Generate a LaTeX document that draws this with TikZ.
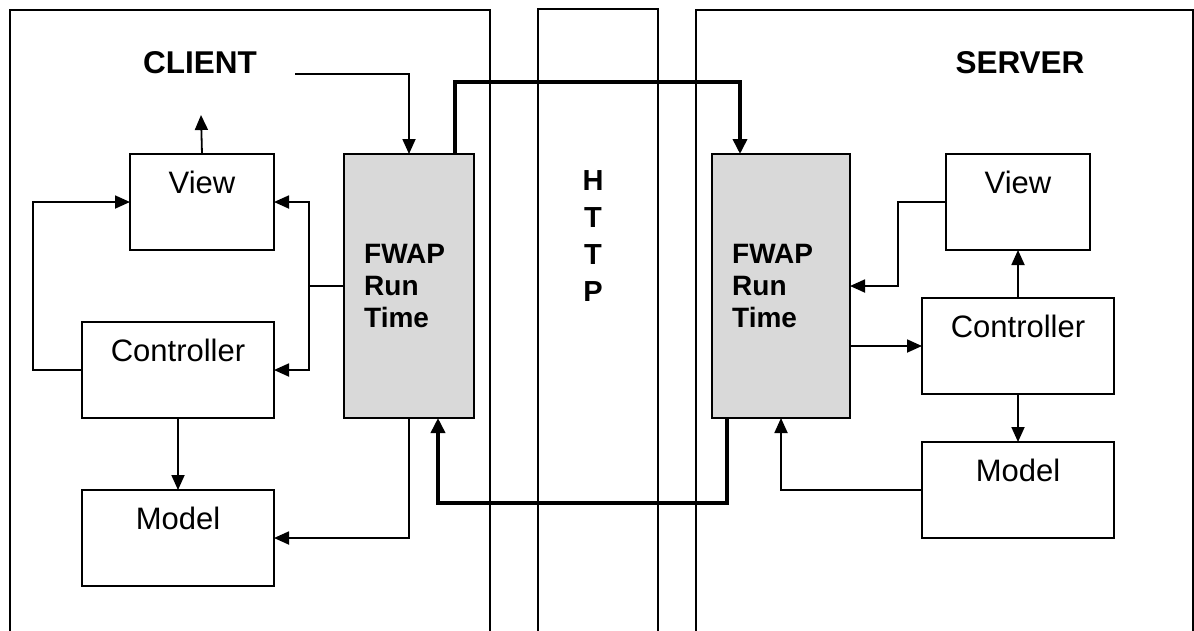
\documentclass[tikz,border=0pt]{standalone}
\usepackage{fontspec}
\setmainfont{Liberation Sans}
\usetikzlibrary{arrows.meta,calc}
\definecolor{fwapgray}{RGB}{217,217,217}
\begin{document}
\begin{tikzpicture}[x=1pt,y=-1pt,
  frame/.style={line width=1.8pt},
  box/.style={draw, line width=1.8pt, inner sep=0pt, outer sep=0pt, fill=white},
  smallbox/.style={box, minimum width=144pt, minimum height=96pt},
  widebox/.style={box, minimum width=192pt, minimum height=96pt},
  fwap/.style={box, fill=fwapgray, minimum height=264pt},
  fwaptext/.style={inner sep=0pt, anchor=west, align=left,
    font=\fontsize{28}{32}\selectfont\bfseries},
  lbl/.style={inner sep=0pt, font=\fontsize{31}{36}\selectfont},
  title/.style={inner sep=0pt, font=\fontsize{31.5}{36}\selectfont\bfseries},
  conn/.style={line width=1.8pt, -{Triangle[length=15pt,width=13pt]}},
  plain/.style={line width=1.8pt},
  thickconn/.style={line width=3.6pt, line join=miter, -{Triangle[length=15pt,width=14pt]}}
]
\useasboundingbox (0,0) rectangle (1194,630);

% outer frames (open at bottom)
\draw[frame] (10,632) -- (10,10) -- (490,10) -- (490,632);
\draw[frame] (538,632) -- (538,9) -- (658,9) -- (658,632);
\draw[frame] (696,632) -- (696,10) -- (1193,10) -- (1193,632);

% titles
\node[title] (client) at (200,63) {CLIENT};
\node[title] (server) at (1020,63) {SERVER};
\node[inner sep=0pt, align=center, font=\fontsize{29}{36.7}\selectfont\bfseries] (http) at (593,236) {H\\T\\T\\P};

% client boxes
\node[smallbox] (cv) at (202,202) {};
\node[widebox] (cc) at (178,370) {};
\node[widebox] (cm) at (178,538) {};
\node[fwap, minimum width=130pt] (cf) at (409,286) {};
\node[fwaptext] (cft) at ([xshift=20pt]cf.west) {FWAP\\Run\\Time};
\node[lbl] (cvt) at ([yshift=-28pt]cv.north) {View};
\node[lbl] (cct) at ([yshift=-28pt]cc.north) {Controller};
\node[lbl] (cmt) at ([yshift=-28pt]cm.north) {Model};

% server boxes
\node[smallbox] (sv) at (1018,202) {};
\node[widebox] (sc) at (1018,346) {};
\node[widebox] (sm) at (1018,490) {};
\node[fwap, minimum width=138pt] (sf) at (781,286) {};
\node[fwaptext] (sft) at ([xshift=20pt]sf.west) {FWAP\\Run\\Time};
\node[lbl] (svt) at ([yshift=-28pt]sv.north) {View};
\node[lbl] (sct) at ([yshift=-28pt]sc.north) {Controller};
\node[lbl] (smt) at ([yshift=-28pt]sm.north) {Model};

% free coordinates
\coordinate (cin) at (295,74);
\coordinate (vout) at (201,115);
\coordinate (cj) at (309,286);

% client connectors
\draw[conn] (cin) -| (cf.north);
\draw[conn] (cv.north) -- (vout);
\draw[conn] (cc.west) -| (33,202) -- (cv.west);
\draw[plain] (cf.west) -- (cj);
\draw[conn] (cj) |- (cv.east);
\draw[conn] (cj) |- (cc.east);
\draw[conn] (cf.south) |- (cm.east);
\draw[conn] (cc.south) -- (cm.north);

% server connectors
\draw[conn] (sv.west) -| (898,286) -- (sf.east);
\draw[conn] (sc.north) -- (sv.south);
\draw[conn] (sf.east |- sc.west) -- (sc.west);
\draw[conn] (sc.south) -- (sm.north);
\draw[conn] (sm.west) -| (sf.south);

% thick HTTP connectors
\draw[thickconn] ([xshift=-19pt]cf.north east) |- (740,82) -- (sf.north west -| 740,0);
\draw[thickconn] ([xshift=15pt]sf.south west) |- (438,503) -- (cf.south -| 438,0);
\end{tikzpicture}
\end{document}
